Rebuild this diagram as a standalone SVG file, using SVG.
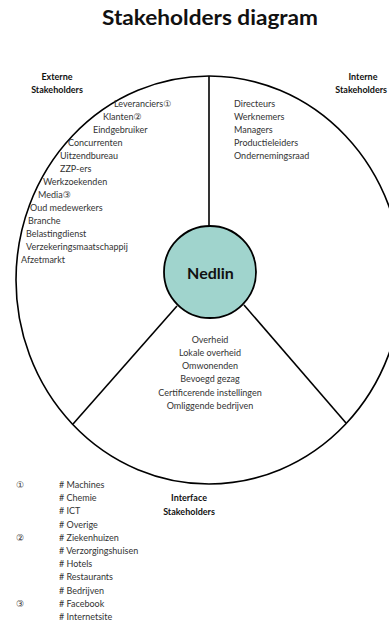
<svg xmlns="http://www.w3.org/2000/svg" width="389" height="622" viewBox="0 0 389 622">
<style>
.t{font-family:Lato,"Open Sans","DejaVu Sans",sans-serif;font-size:9px;fill:#333}
.b{font-family:Lato,"Open Sans","DejaVu Sans",sans-serif;font-size:9px;font-weight:bold;fill:#111}
.c{text-anchor:middle}
.ln{stroke:#000;stroke-width:1.6;fill:none}
.sym{font-family:"DejaVu Sans",sans-serif;font-size:9px;fill:#333}
</style>
<rect width="389" height="622" fill="#fff"/>
<text x="210" y="25" class="c" font-family="Lato,'Open Sans',sans-serif" font-size="21" font-weight="bold" fill="#111" textLength="216" lengthAdjust="spacingAndGlyphs">Stakeholders diagram</text>
<g id="connectors">
<ellipse cx="209" cy="280" rx="193" ry="204" class="ln" stroke-width="2"/>
<line x1="209" y1="76" x2="209" y2="226" class="ln"/>
<line x1="177" y1="306" x2="73" y2="424" class="ln"/>
<line x1="244" y1="305" x2="346" y2="423" class="ln"/>
</g>
<g id="nedlin">
<circle cx="210" cy="272" r="46" fill="#a0d4cd" stroke="#000" stroke-width="1.8"/>
<text x="210.5" y="279" class="c" font-family="Lato,'Open Sans',sans-serif" font-size="16" font-weight="bold" fill="#111">Nedlin</text>
</g>
<g id="externe">
<text x="57" y="80" class="b c">Externe</text>
<text x="57" y="93" class="b c">Stakeholders</text>
<text x="114" y="107" class="t">Leveranciers<tspan class="sym">①</tspan></text>
<text x="103" y="120" class="t">Klanten<tspan class="sym">②</tspan></text>
<text x="93" y="133" class="t">Eindgebruiker</text>
<text x="68" y="146" class="t">Concurrenten</text>
<text x="60" y="159" class="t">Uitzendbureau</text>
<text x="60" y="172" class="t">ZZP-ers</text>
<text x="43" y="185" class="t">Werkzoekenden</text>
<text x="38" y="198" class="t">Media<tspan class="sym">③</tspan></text>
<text x="30" y="211" class="t">Oud medewerkers</text>
<text x="28" y="224" class="t">Branche</text>
<text x="26" y="237" class="t">Belastingdienst</text>
<text x="26" y="250" class="t">Verzekeringsmaatschappij</text>
<text x="21" y="263" class="t">Afzetmarkt</text>
</g>
<g id="interne">
<text x="363" y="80" class="b c">Interne</text>
<text x="387" y="93" class="b" text-anchor="end">Stakeholders</text>
<text x="234" y="107" class="t">Directeurs</text>
<text x="234" y="120" class="t">Werknemers</text>
<text x="234" y="133" class="t">Managers</text>
<text x="234" y="146" class="t">Productieleiders</text>
<text x="234" y="159" class="t">Ondernemingsraad</text>
</g>
<g id="interface">
<text x="189" y="501" class="b c">Interface</text>
<text x="189" y="515" class="b c">Stakeholders</text>
<text x="210" y="343" class="t c">Overheid</text>
<text x="210" y="356" class="t c">Lokale overheid</text>
<text x="210" y="369" class="t c">Omwonenden</text>
<text x="210" y="382" class="t c">Bevoegd gezag</text>
<text x="210" y="395.5" class="t c">Certificerende instellingen</text>
<text x="210" y="408.5" class="t c">Omliggende bedrijven</text>
</g>
<g id="footnotes">
<text x="16" y="488" class="sym">①</text>
<text x="16" y="541" class="sym">②</text>
<text x="16" y="607" class="sym">③</text>
<text x="59" y="488" class="t"># Machines</text>
<text x="59" y="501.2" class="t"># Chemie</text>
<text x="59" y="514.4" class="t"># ICT</text>
<text x="59" y="527.6" class="t"># Overige</text>
<text x="59" y="540.8" class="t"># Ziekenhuizen</text>
<text x="59" y="554" class="t"># Verzorgingshuisen</text>
<text x="59" y="567.2" class="t"># Hotels</text>
<text x="59" y="580.4" class="t"># Restaurants</text>
<text x="59" y="593.6" class="t"># Bedrijven</text>
<text x="59" y="606.8" class="t"># Facebook</text>
<text x="59" y="620" class="t"># Internetsite</text>
</g>
</svg>
